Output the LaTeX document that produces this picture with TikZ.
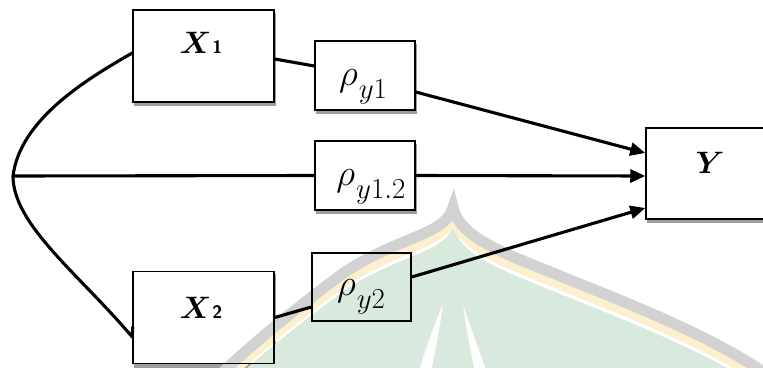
\RequirePackage{fix-cm}
\documentclass[tikz,border=0pt]{standalone}
\usepackage{amsmath}
\usetikzlibrary{arrows.meta,calc}

\definecolor{wmgreen}{RGB}{215,234,221}
\definecolor{wmyellow}{RGB}{252,240,206}
\definecolor{wmgray}{RGB}{210,210,210}

\pgfdeclarelayer{backdrop}
\pgfdeclarelayer{emblem}
\pgfsetlayers{backdrop,emblem,main}

% bold sans index placed after a bold italic capital
\newcommand{\varidx}[2]{{\fontsize{31}{36}\selectfont$\boldsymbol{#1}$\kern1pt{\fontsize{18}{18}\selectfont\sffamily\bfseries #2}}}
% rho with a lowered index
\newcommand{\rhoidx}[1]{{\fontsize{37}{42}\selectfont$\rho$\kern1pt\lower13pt\hbox{\fontsize{29}{30}\selectfont$#1$}}}

\begin{document}
\begin{tikzpicture}[x=1pt,y=-1pt,
  box/.style={draw=black, line width=1.5pt, inner sep=0pt},
  bigbox/.style={box, minimum width=141pt, minimum height=92pt},
  corrbox/.style={box, minimum width=100pt, minimum height=69pt},
  lbl/.style={anchor=base, inner sep=0pt},
  conn/.style={draw=black, line width=3.1pt},
  arr/.style={conn, -{Triangle[length=15pt,width=13pt]}},
  shade/.style={fill=black!38},
  emblemcurve/.style={insert path={
    (215,380) .. controls (250,345) and (300,305) .. (345,272)
    .. controls (400,236) and (446,235) .. (453,207)
    .. controls (460,240) and (510,255) .. (570,280)
    .. controls (640,308) and (720,340) .. (775,380)}}]

\useasboundingbox (0,0) rectangle (763,367);
\clip (0,0) rectangle (763,367);

% boxes
\node[bigbox] (X1) at (203.5,56) {};
\node[bigbox] (X2) at (203.5,317.5) {};
\node[box, minimum width=134pt, minimum height=91pt] (Y) at (713,173.5) {};
\node[corrbox] (r1) at (365,75.5) {};
\node[corrbox] (r12) at (365,175.5) {};
\node[corrbox, minimum width=99pt, minimum height=68pt] (r2) at (361.5,287) {};

% soft shadows below the boxes
\begin{pgfonlayer}{backdrop}
  \foreach \b in {X1,X2,Y,r1,r12,r2}{
    \fill[shade] ([xshift=1.5pt,yshift=-3.5pt]\b.south west) rectangle ([xshift=1.5pt,yshift=-3.5pt]\b.north east);
    \fill[white] (\b.south west) rectangle (\b.north east);
  }
\end{pgfonlayer}

% labels
\node[lbl] (tX1) at (201,53) {\varidx{X}{1}};
\node[lbl] (tX2) at (201,318) {\varidx{X}{2}};
\node[lbl] (tY) at (710,173) {\fontsize{31}{36}\selectfont$\boldsymbol{Y}$};
\node[lbl] (tr1) at (363,85) {\rhoidx{y1}};
\node[lbl] (tr12) at (371,185) {\rhoidx{y1.2}};
\node[lbl] (tr2) at (361,295) {\rhoidx{y2}};

% connectors
\coordinate (split) at (13,176);
\draw[conn] (X1.east) ++(0,3) -- ([yshift=9.5pt]r1.west);
\draw[arr] ([yshift=-16.5pt]r1.east) -- ([yshift=20.5pt]Y.west);
\draw[conn] (split) -- (r12.west);
\draw[arr] (r12.east) -- ([yshift=-2.5pt]Y.west);
\draw[conn] (X2.east) -- ([yshift=-20pt]r2.west);
\draw[arr] ([yshift=10pt]r2.east) -- ([yshift=-34.5pt]Y.west);

% curved correlation link between the two predictors
\draw[conn, line cap=round, line join=round]
  ([yshift=3pt]X1.west) .. controls (85,80) and (20,120) .. (split)
  .. controls (13,225) and (80,275) .. ([yshift=-19.5pt]X2.west)
  -- ++(0.5,-10);

% faint emblem behind the drawing
\begin{pgfonlayer}{emblem}
  \fill[wmgreen, yshift=-18pt] [emblemcurve] -- cycle;
  \fill[white, draw=black!10, line width=1pt]
    (444,300) .. controls (434,325) and (424,350) .. (416,380) -- (430,380)
    .. controls (436,350) and (441,325) .. (444,300);
  \fill[white, draw=black!10, line width=1pt]
    (462,300) .. controls (470,325) and (480,350) .. (490,380) -- (476,380)
    .. controls (470,350) and (465,325) .. (462,300);
  \draw[wmyellow, line width=8pt, yshift=-10pt] [emblemcurve];
  \draw[wmgray, line width=11pt] [emblemcurve];
\end{pgfonlayer}
\end{tikzpicture}
\end{document}
